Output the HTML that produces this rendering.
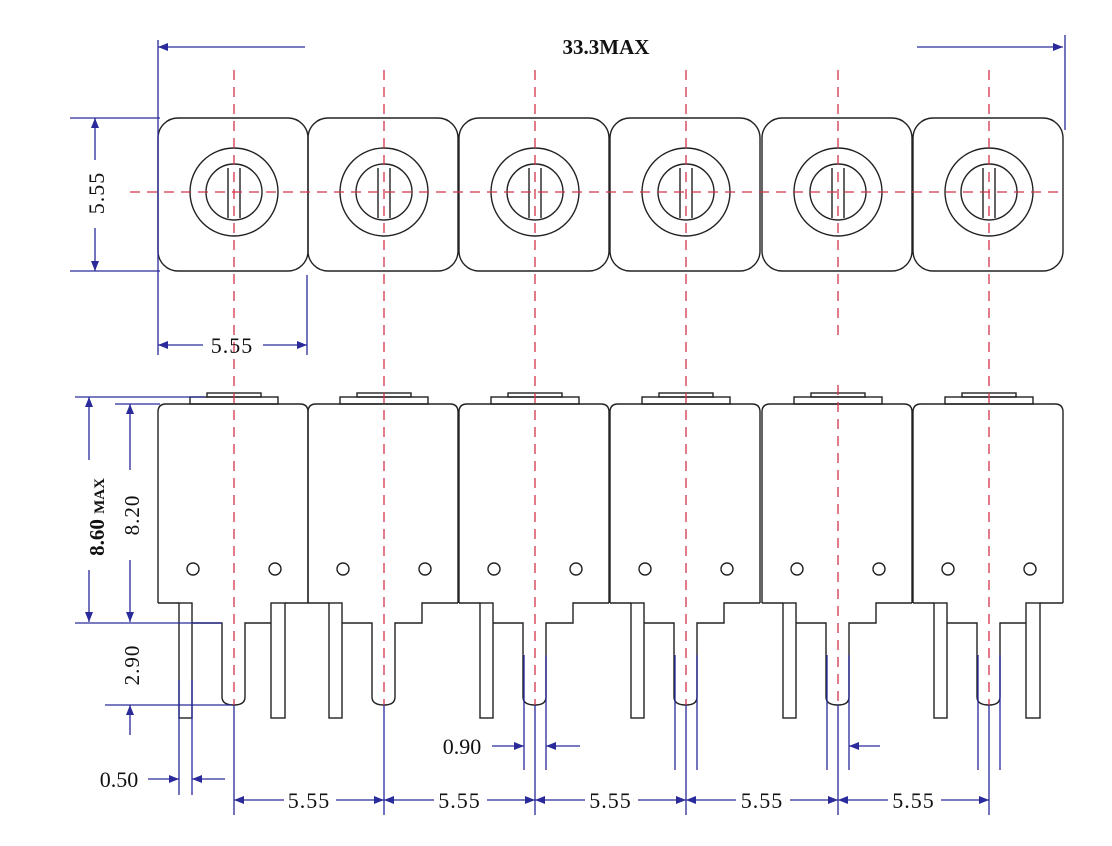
<!DOCTYPE html>
<html><head><meta charset="utf-8"><style>
html,body{margin:0;padding:0;background:#fff;}
svg{display:block;}
text{font-family:"Liberation Serif",serif;fill:#111;}
</style></head><body>
<svg id="s" width="1112" height="846" viewBox="0 0 1112 846" xmlns="http://www.w3.org/2000/svg">
<defs>
<marker id="a" viewBox="0 0 10 10" refX="10" refY="5" markerWidth="10" markerHeight="10" orient="auto-start-reverse" markerUnits="userSpaceOnUse"><path d="M0,1 L10,5 L0,9 z" fill="#2a2a9a"/></marker>
</defs>
<g id="g"></g>
</svg>
<script>
var cx=[234,384,535,686,838,989];
var o='';
var B='stroke="#2a2a9a" stroke-width="1.3" fill="none"';
var K='stroke="#222" stroke-width="1.4" fill="none"';
var R='stroke="#d2344a" stroke-width="1.3" stroke-dasharray="10,7" fill="none"';
cx.forEach(function(c,i){
  var L=c-76,Rr=c+74;
  // top view
  o+='<rect x="'+L+'" y="118" width="150" height="153" rx="20" '+K+'/>';
  o+='<circle cx="'+c+'" cy="192" r="44" '+K+'/>';
  o+='<circle cx="'+c+'" cy="192" r="28" '+K+'/>';
  o+='<path d="M'+(c-6)+',168 V218 M'+(c+6)+',168 V218" '+K+'/>';
  // side view body
  o+='<path d="M'+L+',603 V412 Q'+L+',404 '+(L+8)+',404 H'+(Rr-8)+' Q'+Rr+',404 '+Rr+',412 V603" '+K+'/>';
  o+='<rect x="'+(c-44)+'" y="397" width="88" height="7" '+K+'/>';
  o+='<rect x="'+(c-27)+'" y="393" width="54" height="4" '+K+'/>';
  o+='<circle cx="'+(c-41)+'" cy="569" r="6" '+K+'/>';
  o+='<circle cx="'+(c+41)+'" cy="569" r="6" '+K+'/>';
  // bottom profile
  var p='M'+L+',603 H'+(c-55);
  o+='<rect x="'+(c-55)+'" y="603" width="13" height="115" '+K+'/>';
  p+=' M'+(c-42)+',623 H'+(c-12)+' V697 Q'+(c-12)+',705 '+c+',705 Q'+(c+11)+',705 '+(c+11)+',697 V623';
  if(i==0||i==5){
    p+=' H'+(c+37)+' M'+(c+51)+',603 H'+Rr;
    o+='<rect x="'+(c+37)+'" y="603" width="14" height="115" '+K+'/>';
  } else {
    p+=' H'+(c+38)+' V603 H'+Rr;
  }
  o+='<path d="'+p+'" '+K+'/>';
  // red centerline
  if(i==4) o+='<path d="M'+c+',70 V335 M'+c+',385 V705" '+R+'/>';
  else o+='<path d="M'+c+',70 V705" '+R+'/>';
  // blue extension
  o+='<path d="M'+c+',705 V815" '+B+'/>';
  if(i>=2){o+='<path d="M'+(c-11)+',655 V770 M'+(c+11)+',655 V770" '+B+'/>';}
  if(i<5){
    var n=cx[i+1];
    o+='<line x1="'+(c+50)+'" y1="800" x2="'+c+'" y2="800" '+B+' marker-end="url(#a)"/>';
    o+='<line x1="'+(n-48)+'" y1="800" x2="'+n+'" y2="800" '+B+' marker-end="url(#a)"/>';
    o+='<text x="'+((c+n)/2)+'" y="808" font-size="22" text-anchor="middle" font-family="Liberation Sans,sans-serif" letter-spacing="1">5.55</text>';
  }
});
o+='<path d="M130,192 H1065" '+R+'/>';
// 33.3MAX
o+='<path d="M158,40 V355 M1065,35 V130 M307,275 V355" '+B+'/>';
o+='<line x1="305" y1="47" x2="158" y2="47" '+B+' marker-end="url(#a)"/>';
o+='<line x1="917" y1="47" x2="1063" y2="47" '+B+' marker-end="url(#a)"/>';
o+='<text x="606" y="54" font-size="21" font-weight="bold" text-anchor="middle">33.3MAX</text>';
// 5.55 vertical
o+='<path d="M70,118 H160 M70,271 H160" '+B+'/>';
o+='<line x1="95" y1="160" x2="95" y2="118" '+B+' marker-end="url(#a)"/>';
o+='<line x1="95" y1="228" x2="95" y2="271" '+B+' marker-end="url(#a)"/>';
o+='<text transform="translate(104,193) rotate(-90)" font-size="22" text-anchor="middle" font-family="Liberation Sans,sans-serif" letter-spacing="1">5.55</text>';
// 5.55 horizontal
o+='<line x1="203" y1="345" x2="158" y2="345" '+B+' marker-end="url(#a)"/>';
o+='<line x1="263" y1="345" x2="307" y2="345" '+B+' marker-end="url(#a)"/>';
o+='<text x="232" y="353" font-size="22" text-anchor="middle" font-family="Liberation Sans,sans-serif" letter-spacing="1">5.55</text>';
// left vertical dims
o+='<path d="M75,397 H205 M115,404 H160 M75,623 H222 M105,705 H232" '+B+'/>';
o+='<line x1="89" y1="460" x2="89" y2="397" '+B+' marker-end="url(#a)"/>';
o+='<line x1="89" y1="570" x2="89" y2="622" '+B+' marker-end="url(#a)"/>';
o+='<text transform="translate(104,517) rotate(-90)" font-size="21" font-weight="bold" text-anchor="middle">8.60 <tspan font-size="15">MAX</tspan></text>';
o+='<line x1="130" y1="470" x2="130" y2="404" '+B+' marker-end="url(#a)"/>';
o+='<line x1="130" y1="560" x2="130" y2="622" '+B+' marker-end="url(#a)"/>';
o+='<text transform="translate(139,515) rotate(-90)" font-size="21" text-anchor="middle" font-family="Liberation Sans,sans-serif" letter-spacing="1">8.20</text>';
o+='<line x1="130" y1="735" x2="130" y2="705" '+B+' marker-end="url(#a)"/>';
o+='<text transform="translate(139,665) rotate(-90)" font-size="21" text-anchor="middle" font-family="Liberation Sans,sans-serif" letter-spacing="1">2.90</text>';
// 0.50
o+='<path d="M179,680 V795 M192,680 V795" '+B+'/>';
o+='<line x1="148" y1="779" x2="179" y2="779" '+B+' marker-end="url(#a)"/>';
o+='<line x1="225" y1="779" x2="192" y2="779" '+B+' marker-end="url(#a)"/>';
o+='<text x="119" y="787" font-size="22" text-anchor="middle" font-family="Liberation Sans,sans-serif">0.50</text>';
// 0.90
o+='<line x1="492" y1="746" x2="524" y2="746" '+B+' marker-end="url(#a)"/>';
o+='<line x1="580" y1="746" x2="546" y2="746" '+B+' marker-end="url(#a)"/>';
o+='<line x1="880" y1="746" x2="849" y2="746" '+B+' marker-end="url(#a)"/>';
o+='<text x="462" y="754" font-size="22" text-anchor="middle" font-family="Liberation Sans,sans-serif">0.90</text>';
document.getElementById('g').innerHTML=o;
</script>
</body></html>
